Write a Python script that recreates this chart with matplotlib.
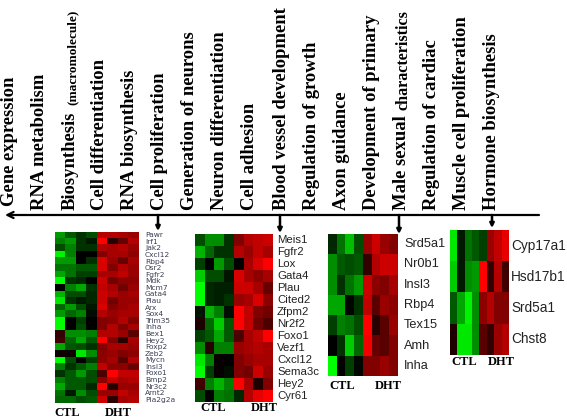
import matplotlib
matplotlib.use('Agg')
import matplotlib.pyplot as plt
from matplotlib.colors import LinearSegmentedColormap
import numpy as np

W, H = 567, 418

terms = ['Gene expression', 'RNA metabolism', 'Biosynthesis', 'Cell differentiation', 'RNA biosynthesis',
         'Cell proliferation', 'Generation of neurons', 'Neuron differentiation', 'Cell adhesion',
         'Blood vessel development', 'Regulation of growth', 'Axon guidance', 'Development of primary',
         'Male sexual', 'Regulation of cardiac', 'Muscle cell proliferation', 'Hormone biosynthesis']
term_x = [10, 40, 70, 100, 130, 160, 190, 220, 250, 281, 311, 341, 371, 401, 431, 461, 492]

genes1 = ['Pawr', 'Irf1', 'Jak2', 'Cxcl12', 'Rbp4', 'Osr2', 'Fgfr2', 'Mdk', 'Mcm7', 'Gata4', 'Plau', 'Arx', 'Sox4',
          'Trim35', 'Inha', 'Bex1', 'Hey2', 'Foxp2', 'Zeb2', 'Mycn', 'Insl3', 'Foxo1', 'Bmp2', 'Nr3c2', 'Arnt2', 'Pla2g2a']
vals1 = [
    [-.6, -.35, -.2, -.3, .7, .7, .65, .6],
    [-.5, -.6, -.2, -.1, 1, .15, .4, .7],
    [-.3, -.5, -.2, -.2, .7, .65, .7, .6],
    [-.95, -.5, 0, 0, .5, .65, .65, .55],
    [-.6, -.6, 0, -.2, .85, .6, .4, .65],
    [-.45, -.45, -.35, -.35, .85, .5, .7, .6],
    [-.65, -.45, -.25, -.25, .65, .65, .75, .6],
    [-1, -.2, -.15, 0, .8, .45, .55, .55],
    [0, -.5, -.65, -.2, .75, .65, .45, .6],
    [-.7, -.3, -.3, -.15, .8, .7, .6, .65],
    [-.9, -.2, -.1, -.15, .8, .45, .6, .6],
    [-.4, -.6, -.3, -.1, .85, .5, .6, .65],
    [-.6, -.4, -.5, -.05, .7, .6, .65, .65],
    [-1, 0, -.25, 0, .5, .55, .7, .5],
    [-1, 0, -.3, 0, .5, .7, .5, .65],
    [.2, -.55, -.55, -.5, .7, .7, .6, .35],
    [.25, -.4, -.65, -.35, 1, .5, .15, .65],
    [-.65, -.35, -.3, -.2, .5, .65, .65, .6],
    [.05, .05, -.9, -.55, .55, .6, .5, .55],
    [-1, -.3, .02, -.25, .55, .65, .35, .7],
    [-.5, -.2, -.35, -.5, .75, .55, .55, .4],
    [-.2, -.35, -.6, -.3, .3, 1, .75, .75],
    [-.5, -.35, -.35, -.3, .55, .75, .65, .7],
    [-.65, -.35, -.35, -.15, 1, .15, .6, .6],
    [-.45, -.1, -.55, -.3, .6, .6, .75, .65],
    [-.4, -.4, -.3, -.35, .8, .15, .65, .7],
]

genes2 = ['Meis1', 'Fgfr2', 'Lox', 'Gata4', 'Plau', 'Cited2', 'Zfpm2', 'Nr2f2', 'Foxo1', 'Vezf1', 'Cxcl12', 'Sema3c', 'Hey2', 'Cyr61']
vals2 = [
    [-.3, -.55, -.55, -.2, .5, .7, .75, .8],
    [-.7, -.4, -.2, -.2, .7, .6, .75, .65],
    [-.25, 0, -.6, -.3, 0, .65, .85, 1],
    [-.8, -.3, -.3, -.08, .85, .65, .55, .65],
    [-1, -.15, -.12, -.12, .8, .8, .65, .4],
    [-1, -.15, -.12, -.2, .6, .65, .85, .55],
    [-.08, -.7, -.5, -.05, 1, .75, .5, .45],
    [.12, -.4, -.8, -.35, 1, .75, .45, .3],
    [-.25, -.35, -.65, -.35, .3, .65, .75, 1],
    [-.55, .15, -.5, -.5, .6, .65, .7, .65],
    [-.9, -.5, .03, 0, .5, .6, .65, .65],
    [-1, -.25, .03, -.05, .5, .45, .8, .6],
    [.25, -.5, -.7, -.5, 1, .65, .12, .5],
    [-.3, 0, -.5, -.45, -.15, .7, .9, 1],
]

genes3 = ['Srd5a1', 'Nr0b1', 'Insl3', 'Rbp4', 'Tex15', 'Amh', 'Inha']
vals3 = [
    [-.15, -.45, -.75, -.3, .6, .8, .6, .5],
    [-.55, -.35, -.3, -.35, .2, .7, .8, .8],
    [-.55, -.2, -.45, -.6, .8, .55, .5, .65],
    [-.65, -.65, -.02, -.2, .75, .35, .6, .55],
    [-.25, -.5, -.45, -.3, 1, .15, .35, .6],
    [0, -.2, -.8, -.4, .95, .4, .35, .5],
    [-1, 0, -.25, -.03, .5, .5, .6, .5],
]

genes4 = ['Cyp17a1', 'Hsd17b1', 'Srd5a1', 'Chst8']
vals4 = [
    [-.9, -.1, -.45, -.35, -.25, .6, .75, .9],
    [-.8, -.1, -.55, -.6, 1, .2, .7, .25],
    [-.35, -.65, -.95, -.55, .55, .7, .5, .5],
    [.12, -.9, -.9, -.55, .35, .2, .6, .7],
]

group_labels = ['CTL', 'DHT']

cmap = LinearSegmentedColormap.from_list('gbr', ['#00ff00', '#000000', '#ff0000'])

fig = plt.figure(figsize=(W / 100, H / 100), dpi=100, facecolor='white')
# overlay in pixel coordinates, y going down like the image
bg = fig.add_axes([0, 0, 1, 1])
bg.set_xlim(0, W)
bg.set_ylim(H, 0)
bg.axis('off')


def heat(vals, genes, box, label_x, fs, family, label_color, ctl_pos, dht_pos):
    x0, y0, x1, y1 = box
    ax = fig.add_axes([x0 / W, 1 - y1 / H, (x1 - x0) / W, (y1 - y0) / H])
    ax.imshow(np.array(vals), cmap=cmap, vmin=-1, vmax=1, aspect='auto', interpolation='nearest')
    ax.axis('off')
    row_h = (y1 - y0) / len(genes)
    for i, g in enumerate(genes):
        bg.text(label_x, y0 + row_h * (i + .5), g, fontsize=fs, color=label_color, family=family,
                ha='left', va='center')
    for name, (px, py) in zip(group_labels, [ctl_pos, dht_pos]):
        bg.text(px, py, name, fontsize=9, family='Liberation Serif', fontweight='bold',
                ha='center', va='center')


for name, x in zip(terms, term_x):
    bottom = 206 if name == 'Gene expression' else 210
    bg.text(x, bottom, name, rotation=90, fontsize=13.4, family='Liberation Serif', fontweight='bold',
            ha='center', va='bottom')
# the two labels that switch to smaller type part way
bg.text(73, 105, '(macromolecule)', rotation=90, fontsize=9.5, family='Liberation Serif', fontweight='bold',
        ha='center', va='bottom')
bg.text(403, 110, 'characteristics', rotation=90, fontsize=11.6, family='Liberation Serif', fontweight='bold',
        ha='center', va='bottom')

# main axis arrow and the drop arrows
bg.annotate('', xy=(5, 215), xytext=(539, 215),
            arrowprops=dict(arrowstyle='->', lw=1.6, color='black', mutation_scale=11, shrinkA=0, shrinkB=0))
for x, y in [(158, 231), (280, 233), (399, 234), (492, 228)]:
    bg.annotate('', xy=(x, y), xytext=(x, 215),
                arrowprops=dict(arrowstyle='-|>', lw=1.8, color='black', mutation_scale=6, shrinkA=0, shrinkB=0))

heat(vals1, genes1, (55, 232, 139, 403), 145, 5.4, 'DejaVu Sans', '#3a3f55', (67, 413), (118, 413))
heat(vals2, genes2, (195, 234, 273, 402), 277, 8.2, 'Liberation Sans', '#222222', (213, 408), (264, 408))
heat(vals3, genes3, (328, 234, 398, 376), 404, 9.2, 'Liberation Sans', '#222222', (342, 386), (388, 386))
heat(vals4, genes4, (450, 230, 509, 355), 511, 9.8, 'Liberation Sans', '#222222', (464, 362), (501, 362))

fig.savefig('out.png', dpi=100)
